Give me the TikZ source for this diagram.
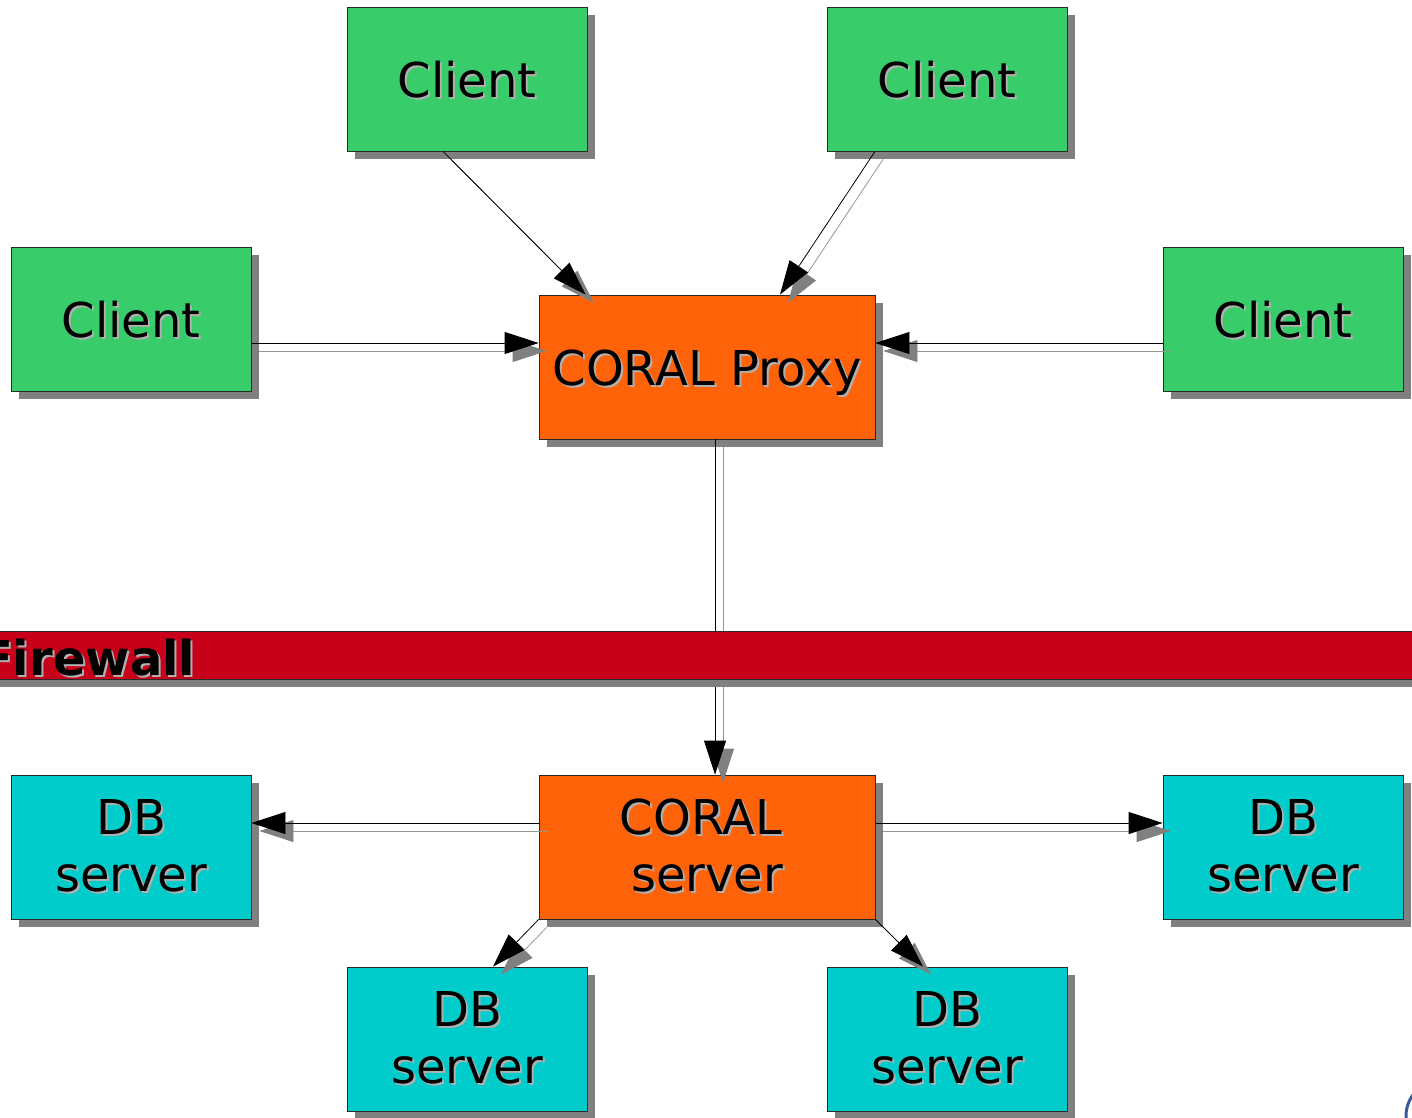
\documentclass[tikz,border=0pt]{standalone}
\usepackage{fontspec}
\setmainfont{DejaVu Sans}
\usetikzlibrary{arrows.meta,shadows,calc}
\definecolor{clientgreen}{RGB}{57,204,106}
\definecolor{coralorange}{RGB}{255,99,9}
\definecolor{dbcyan}{RGB}{0,204,204}
\definecolor{fwred}{RGB}{200,0,25}
\definecolor{shgray}{RGB}{128,128,128}
\definecolor{txtsh}{RGB}{176,176,176}
\definecolor{lnsh}{RGB}{150,150,150}
\definecolor{edgecol}{RGB}{40,40,40}
\definecolor{logoblue}{RGB}{60,90,160}
\newcommand\sht[1]{\makebox[0pt][l]{\kern2pt\raisebox{-2pt}{\textcolor{txtsh}{#1}}}#1}
\begin{document}
\begin{tikzpicture}[x=1pt,y=-1pt,
  boxbase/.style={draw=edgecol, line width=0.8pt, inner sep=0pt,
    font=\fontsize{48}{57}\selectfont, align=center,
    drop shadow={shadow xshift=8pt, shadow yshift=-8pt, fill=shgray, opacity=1}},
  smallbox/.style={boxbase, minimum width=240pt, minimum height=144pt},
  bigbox/.style={boxbase, minimum width=336pt, minimum height=144pt},
  clientbox/.style={smallbox, fill=clientgreen, text height=36pt, text depth=0pt},
  dbbox/.style={smallbox, fill=dbcyan},
  proxybox/.style={bigbox, fill=coralorange, text height=36pt, text depth=0pt},
  serverbox/.style={bigbox, fill=coralorange},
  conn/.style={draw=black, line width=0.8pt, -{Triangle[length=34pt,width=22pt]}},
  connsh/.style={draw=lnsh, line width=0.8pt,
    -{Triangle[length=34pt,width=22pt,color=shgray]},
    transform canvas={xshift=8pt,yshift=-8pt}},
  fwband/.style={draw=edgecol, line width=0.8pt, fill=fwred, inner sep=0pt,
    minimum width=1440pt, minimum height=48pt,
    drop shadow={shadow xshift=0pt, shadow yshift=-8pt, fill=shgray, opacity=1}},
  fwtext/.style={anchor=base west, inner sep=0pt, font=\bfseries\fontsize{48}{58}\selectfont}
]
\useasboundingbox (0,0) rectangle (1412,1117);

% boxes
\node[clientbox] (c1) at (467,79) {\sht{Client}};
\node[clientbox] (c2) at (947,79) {\sht{Client}};
\node[clientbox] (c3) at (131,319) {\sht{Client}};
\node[clientbox] (c4) at (1283,319) {\sht{Client}};
\node[proxybox] (proxy) at (707,367) {\sht{CORAL Proxy}};
\node[serverbox] (server) at (707,847) {\sht{CORAL}\hspace*{12pt}\\\sht{server}};
\node[dbbox] (db1) at (131,847) {\sht{DB}\\\sht{server}};
\node[dbbox] (db2) at (1283,847) {\sht{DB}\\\sht{server}};
\node[dbbox] (db3) at (467,1039) {\sht{DB}\\\sht{server}};
\node[dbbox] (db4) at (947,1039) {\sht{DB}\\\sht{server}};

% connector shadows
\draw[connsh] ($(c1.south)+(-24,0)$) -- ($(proxy.north west)+(47,0)$);
\draw[connsh] ($(c2.south)+(-72,0)$) -- ($(proxy.north)+(73,0)$);
\draw[connsh] ($(c3.east)+(0,24)$) -- ($(proxy.west)+(0,-24)$);
\draw[connsh] ($(c4.west)+(0,24)$) -- ($(proxy.east)+(0,-24)$);
\draw[connsh] ($(proxy.south)+(8,0)$) -- ($(server.north)+(8,0)$);
\draw[connsh] ($(server.west)+(0,-24)$) -- ($(db1.east)+(0,-24)$);
\draw[connsh] ($(server.east)+(0,-24)$) -- ($(db2.west)+(0,-24)$);
\draw[connsh] (server.south west) -- ($(db3.north)+(26,0)$);
\draw[connsh] (server.south east) -- ($(db4.north)+(-24,0)$);

% connectors
\draw[conn] ($(c1.south)+(-24,0)$) -- ($(proxy.north west)+(47,0)$);
\draw[conn] ($(c2.south)+(-72,0)$) -- ($(proxy.north)+(73,0)$);
\draw[conn] ($(c3.east)+(0,24)$) -- ($(proxy.west)+(0,-24)$);
\draw[conn] ($(c4.west)+(0,24)$) -- ($(proxy.east)+(0,-24)$);
\draw[conn] ($(proxy.south)+(8,0)$) -- ($(server.north)+(8,0)$);
\draw[conn] ($(server.west)+(0,-24)$) -- ($(db1.east)+(0,-24)$);
\draw[conn] ($(server.east)+(0,-24)$) -- ($(db2.west)+(0,-24)$);
\draw[conn] (server.south west) -- ($(db3.north)+(26,0)$);
\draw[conn] (server.south east) -- ($(db4.north)+(-24,0)$);

% firewall
\node[fwband] (firewall) at (706,655) {};
\node[fwtext] (fwlabel) at (-20,675) {\sht{Firewall}};

% logo fragment
\begin{scope}
  \clip (0,0) rectangle (1412,1117);
  \draw[logoblue, line width=3pt] (1442,1116) circle (36);
\end{scope}
\end{tikzpicture}
\end{document}
